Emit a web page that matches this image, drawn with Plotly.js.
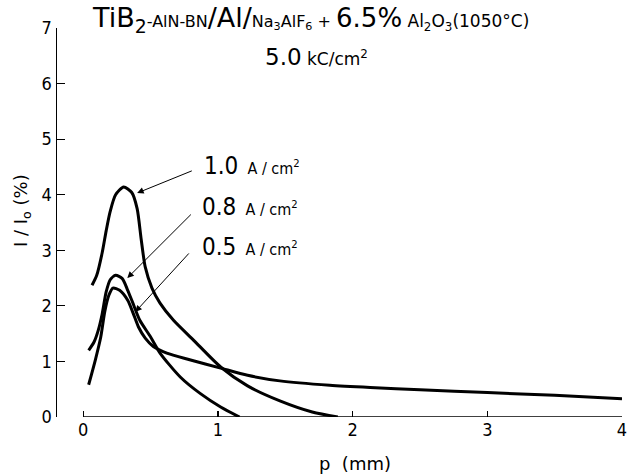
<!DOCTYPE html>
<html>
<head>
<meta charset="utf-8">
<script src="https://cdn.plot.ly/plotly-3.0.1.min.js"></script>
<style>html,body{margin:0;padding:0;background:#fff;}#chart{width:627px;height:474px;}</style>
</head>
<body>
<div id="chart"></div>
<script>
// Distance p (mm) and intensity I/I0 (%)
var p_10 = [0.065, 0.10, 0.14, 0.17, 0.20, 0.24, 0.30, 0.36, 0.40, 0.43, 0.46, 0.51, 0.57, 0.67, 0.82, 1.02, 1.22, 1.46, 1.70, 1.89];
var i_10 = [2.37, 2.55, 2.95, 3.35, 3.70, 4.00, 4.14, 4.04, 3.75, 3.20, 2.70, 2.32, 2.05, 1.74, 1.38, 0.90, 0.56, 0.29, 0.09, 0.00];

var p_08 = [0.04, 0.08, 0.11, 0.14, 0.17, 0.20, 0.24, 0.29, 0.33, 0.37, 0.42, 0.50, 0.57, 0.72, 0.87, 1.02, 1.16];
var i_08 = [1.20, 1.35, 1.55, 1.85, 2.25, 2.47, 2.55, 2.49, 2.28, 2.04, 1.74, 1.44, 1.15, 0.72, 0.42, 0.18, 0.00];

var p_05 = [0.04, 0.09, 0.13, 0.16, 0.19, 0.22, 0.27, 0.33, 0.37, 0.41, 0.46, 0.52, 0.62, 0.79, 1.02, 1.22, 1.46, 1.83, 2.13, 2.50, 3.00, 3.50, 4.00];
var i_05 = [0.58, 1.03, 1.44, 1.90, 2.19, 2.32, 2.28, 2.10, 1.87, 1.62, 1.42, 1.27, 1.15, 1.03, 0.88, 0.75, 0.65, 0.57, 0.53, 0.49, 0.44, 0.39, 0.33];

var xTicks = [0, 1, 2, 3, 4];
var yTicks = [0, 1, 2, 3, 4, 5, 6, 7];

var FONT = 'DejaVu Sans Condensed, DejaVu Sans, sans-serif';
var WIDE = 'DejaVu Sans, sans-serif';
var lineStyle = {color: '#000', width: 3, shape: 'spline', smoothing: 0.7};

var traces = [
  {x: p_10, y: i_10, mode: 'lines', line: lineStyle, name: '1.0 A/cm²', showlegend: false, hoverinfo: 'skip'},
  {x: p_08, y: i_08, mode: 'lines', line: lineStyle, name: '0.8 A/cm²', showlegend: false, hoverinfo: 'skip'},
  {x: p_05, y: i_05, mode: 'lines', line: lineStyle, name: '0.5 A/cm²', showlegend: false, hoverinfo: 'skip'}
];

function arrow(hx, hy, tx, ty) {
  return {x: hx, y: hy, xref: 'x', yref: 'y', ax: tx, ay: ty, axref: 'x', ayref: 'y',
    text: '', showarrow: true, arrowhead: 2, arrowsize: 1.3, arrowwidth: 1, arrowcolor: '#000',
    standoff: 0, startstandoff: 0};
}
function label(x, y, big) {
  return {xref: 'paper', yref: 'paper', x: x, y: y, xanchor: 'left', yanchor: 'middle', showarrow: false,
    text: '<span style="font-size:24px">' + big + '</span>  <span style="font-size:16px">A / cm<sup>2</sup></span>',
    font: {family: FONT, size: 16, color: '#000'}};
}

var layout = {
  width: 627, height: 474,
  margin: {l: 57, r: 5, t: 28, b: 57},
  paper_bgcolor: '#fff', plot_bgcolor: '#fff',
  font: {family: FONT, color: '#000', size: 17},
  showlegend: false,
  xaxis: {range: [-0.195, 4.0], tickvals: xTicks, ticktext: xTicks.map(String), ticks: 'inside', ticklen: 6,
    tickwidth: 1.2, tickcolor: '#000', showline: false, showgrid: false, zeroline: false,
    ticklabeloverflow: 'allow', tickfont: {family: FONT, size: 18, color: '#000'}},
  yaxis: {range: [0, 7], tickvals: yTicks, ticktext: yTicks.map(String), ticks: 'inside', ticklen: 8,
    tickwidth: 1.2, tickcolor: '#000', showline: true, linewidth: 1.5, linecolor: '#000',
    ticklabeloverflow: 'allow', showgrid: false, zeroline: false, tickfont: {family: FONT, size: 18, color: '#000'}},
  shapes: [
    {type: 'line', xref: 'x', yref: 'y', x0: 0, x1: 4, y0: 0, y1: 0, line: {color: '#000', width: 1.5}}
  ],
  annotations: [
    {xref: 'paper', yref: 'paper', x: 0.058, y: 1.022, xanchor: 'left', yanchor: 'middle', showarrow: false,
      font: {family: WIDE, size: 16, color: '#000'},
      text: '<span style="font-size:27px">TiB<sub>2</sub></span><span style="font-size:16px">-AlN-BN</span><span style="font-size:27px">/Al/</span><span style="font-size:16px">Na<sub>3</sub>AlF<sub>6</sub> + </span><span style="font-size:26px">6.5%</span><span style="font-size:17px"> Al<sub>2</sub>O<sub>3</sub>(1050°C)</span>'},
    {xref: 'paper', yref: 'paper', x: 0.365, y: 0.925, xanchor: 'left', yanchor: 'middle', showarrow: false,
      font: {family: WIDE, size: 17, color: '#000'},
      text: '<span style="font-size:23px">5.0</span> <span style="font-size:17px">kC/cm<sup>2</sup></span>'},
    label(0.2566, 0.645, '1.0'),
    label(0.2531, 0.540, '0.8'),
    label(0.2531, 0.437, '0.5'),
    arrow(0.40, 4.03, 0.817, 4.44),
    arrow(0.327, 2.50, 0.81, 3.67),
    arrow(0.386, 1.89, 0.794, 2.97),
    {xref: 'paper', yref: 'paper', x: -0.062, y: 0.532, xanchor: 'center', yanchor: 'middle', showarrow: false,
      textangle: -90, font: {family: WIDE, size: 18, color: '#000'}, text: 'I / I<sub>o</sub> (%)'},
    {xref: 'paper', yref: 'paper', x: 0.527, y: -0.12, xanchor: 'center', yanchor: 'middle', showarrow: false,
      font: {family: WIDE, size: 18, color: '#000'}, text: 'p  (mm)'}
  ]
};

Plotly.newPlot('chart', traces, layout, {displayModeBar: false, staticPlot: true});
</script>
</body>
</html>
